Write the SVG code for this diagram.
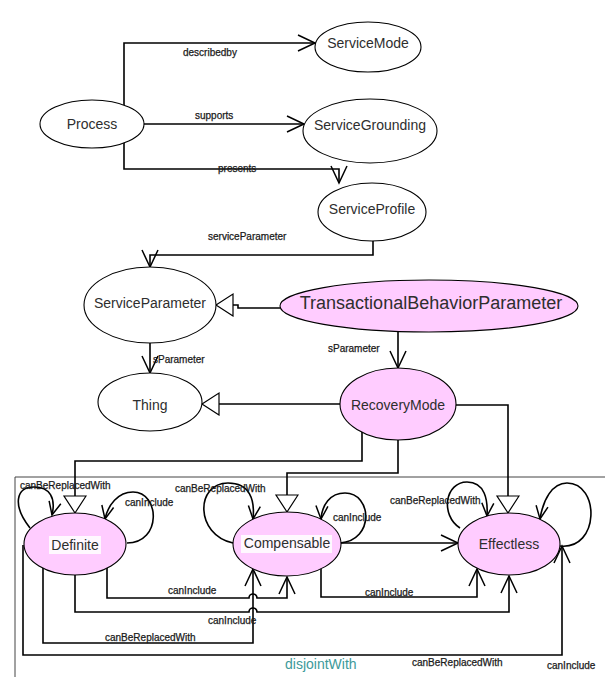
<svg xmlns="http://www.w3.org/2000/svg" width="605" height="677" viewBox="0 0 605 677">
<style>
.node{fill:#ffffff;stroke:#000;stroke-width:1.1}
.pink{fill:#ffccff;stroke:#000;stroke-width:1.1}
.nt{font-family:"Liberation Sans",Arial,sans-serif;font-size:14px;fill:#2e2e2e;text-anchor:middle}
.big{font-size:18px}
.lb{font-family:"Liberation Sans",Arial,sans-serif;font-size:10px;fill:#1a1a1a;stroke:#1a1a1a;stroke-width:0.25}
.ln{fill:none;stroke:#000;stroke-width:1.6}
.open{marker-end:url(#openArrow)}
.loop{marker-end:url(#smallArrow)}
.isa{marker-end:url(#hollowTri)}
.frame{fill:none;stroke:#444;stroke-width:1}
.dj{font-family:"Liberation Sans",Arial,sans-serif;font-size:14px;fill:#3d9a9a}
.tbg{fill:#ffffff;opacity:0.85}
</style>
<defs>
<marker id="openArrow" markerUnits="userSpaceOnUse" markerWidth="18" markerHeight="16" refX="17" refY="8" orient="auto" overflow="visible">
<path d="M0,0 L17,8 L0,16" fill="none" stroke="#000" stroke-width="1.5"/>
</marker>
<marker id="smallArrow" markerUnits="userSpaceOnUse" markerWidth="14" markerHeight="12" refX="13" refY="6" orient="auto" overflow="visible">
<path d="M0,0 L13,6 L0,12" fill="none" stroke="#000" stroke-width="1.5"/>
</marker>
<marker id="hollowTri" markerUnits="userSpaceOnUse" markerWidth="18" markerHeight="24" refX="17" refY="11" orient="auto" overflow="visible">
<path d="M0,0 L17,11 L0,22 Z" fill="#fff" stroke="#000" stroke-width="1.2"/>
</marker>
</defs>

<path class="frame" d="M15,677 V477 H605"/>

<g id="connectors">
<path class="ln open" d="M124,105 V43 H315"/>
<path class="ln open" d="M144,124 H304"/>
<path class="ln open" d="M124,143 V169 H339 V183"/>
<path class="ln open" d="M373,241 V255 H150 V267"/>
<path class="ln isa" d="M280,308 H238 V305 H216"/>
<path class="ln open" d="M150,343 V373"/>
<path class="ln open" d="M398,332 V368"/>
<path class="ln isa" d="M340,404 H202"/>
<path class="ln isa" d="M362,432 V461 H75 V513"/>
<path class="ln isa" d="M398,440 V473 H287 V512"/>
<path class="ln isa" d="M456,405 H508 V513"/>
<path class="ln loop" d="M30,528 C12,505 16,487 34,487 C50,487 56,498 52,515"/>
<path class="ln loop" d="M127,543 C162,543 160,492 133,492 C118,492 108,505 105,519"/>
<path class="ln loop" d="M233,543 C195,535 195,483 228,483 C250,483 255,500 253,519"/>
<path class="ln loop" d="M340,543 C375,540 372,493 345,493 C330,493 322,505 321,519"/>
<path class="ln loop" d="M460,528 C440,515 445,482 467,482 C485,482 488,500 487,516"/>
<path class="ln loop" d="M560,546 C600,550 600,483 567,483 C552,483 543,500 540,519"/>
<path class="ln open" d="M341,543 H458"/>
<path class="ln open" d="M107,568 V598 H249 A4,4 0 0 1 257,598 H287 V577"/>
<path class="ln open" d="M75,575 V612 H249 A4,4 0 0 1 257,612 H509 V576"/>
<path class="ln open" d="M43,568 V643 H253 V569"/>
<path class="ln open" d="M23,545 V655 H562 V546"/>
<path class="ln open" d="M321,569 V597 H477 V569"/>
<text class="lb" x="183" y="55.5">describedby</text>
<text class="lb" x="195" y="118.5">supports</text>
<text class="lb" x="218" y="171.5">presents</text>
<text class="lb" x="208" y="239.5">serviceParameter</text>
<text class="lb" x="153" y="362.5">sParameter</text>
<text class="lb" x="328" y="351.5">sParameter</text>
<text class="lb" x="20" y="488.5">canBeReplacedWith</text>
<text class="lb" x="125" y="505.5">canInclude</text>
<text class="lb" x="175" y="491.5">canBeReplacedWith</text>
<text class="lb" x="333" y="520.5">canInclude</text>
<text class="lb" x="390" y="503.5">canBeReplacedWith</text>
<text class="lb" x="168" y="593.5">canInclude</text>
<text class="lb" x="208" y="623.5">canInclude</text>
<text class="lb" x="105" y="641">canBeReplacedWith</text>
<text class="lb" x="365" y="596">canInclude</text>
<text class="lb" x="412" y="665.5">canBeReplacedWith</text>
<text class="lb" x="547" y="668.5">canInclude</text>
</g>

<g id="Process"><ellipse class="node" cx="92" cy="124" rx="52" ry="24"/><text class="nt" x="92" y="129">Process</text></g>
<g id="ServiceMode"><ellipse class="node" cx="368" cy="47" rx="53" ry="25"/><text class="nt" x="368" y="48">ServiceMode</text></g>
<g id="ServiceGrounding"><ellipse class="node" cx="370" cy="131" rx="67" ry="32"/><text class="nt" x="370" y="130">ServiceGrounding</text></g>
<g id="ServiceProfile"><ellipse class="node" cx="372" cy="212" rx="54" ry="29"/><text class="nt" x="372" y="214">ServiceProfile</text></g>
<g id="ServiceParameter"><ellipse class="node" cx="150" cy="305" rx="66" ry="38"/><text class="nt" x="150" y="308">ServiceParameter</text></g>
<g id="TransactionalBehaviorParameter"><ellipse class="pink" cx="429" cy="306" rx="149" ry="26"/><text class="nt big" x="431" y="308.5">TransactionalBehaviorParameter</text></g>
<g id="Thing"><ellipse class="node" cx="150" cy="402" rx="52" ry="29"/><text class="nt" x="150" y="410">Thing</text></g>
<g id="RecoveryMode"><ellipse class="pink" cx="398" cy="404" rx="58" ry="36"/><text class="nt" x="398" y="410">RecoveryMode</text></g>
<g id="Definite"><ellipse class="pink" cx="75" cy="544" rx="51" ry="31"/><rect class="tbg" x="49" y="536" width="52" height="18"/><text class="nt" x="75" y="550">Definite</text></g>
<g id="Compensable"><ellipse class="pink" cx="287" cy="544" rx="54" ry="32"/><rect class="tbg" x="241" y="535" width="91" height="18"/><text class="nt" x="287" y="548">Compensable</text></g>
<g id="Effectless"><ellipse class="pink" cx="509" cy="544" rx="51" ry="31"/><text class="nt" x="509" y="549">Effectless</text></g>

<text class="dj" x="285" y="669">disjointWith</text>
</svg>
